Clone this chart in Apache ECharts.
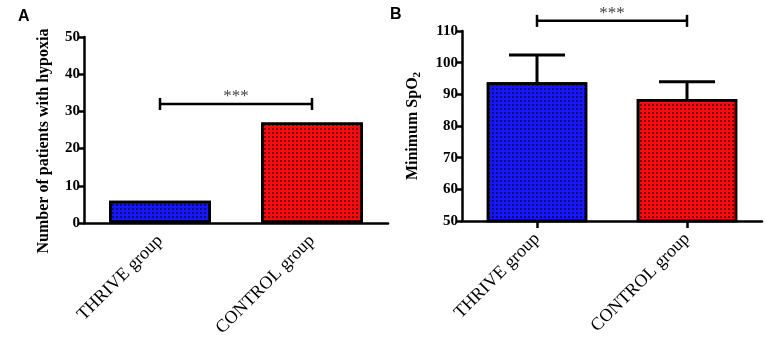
<!DOCTYPE html>
<html>
<head>
<meta charset="utf-8">
<script src="https://cdn.jsdelivr.net/npm/echarts@6/dist/echarts.min.js"></script>
<style>
html,body{margin:0;padding:0;background:#fff;}
#c{width:765px;height:347px;}
</style>
</head>
<body>
<div id="c"></div>
<script>
// ---- data ----
const categories = ['THRIVE group', 'CONTROL group'];
const hypoxiaCounts = [6, 27];          // panel A
const spo2Mean = [93.8, 88.5];          // panel B bar heights
const spo2Upper = [102.4, 94.0];        // panel B error-bar caps (mean + SD)
const sigLevelA = 32;                   // significance bracket height, panel A
const sigLevelB = 113.2;                // significance bracket height, panel B
const sigText = '***';
const yRangeA = [0, 50, 10];            // min, max, interval
const yRangeB = [50, 110, 10];

const serif = 'Liberation Serif';
const blue = '#1717ff';
const red = '#ff0a0a';
const decal = {
  symbol: 'rect', symbolSize: 1,
  dashArrayX: [1.6, 1.7], dashArrayY: [1.6, 1.7],
  color: 'rgba(0,0,0,0.5)', rotation: 0
};

function yAxisBase(r, gi, name, gap, extra) {
  return {
    type: 'value', gridIndex: gi, min: r[0], max: r[1], interval: r[2],
    name: name, nameLocation: 'middle', nameGap: gap, nameRotate: 90,
    nameTextStyle: Object.assign({ fontFamily: serif, fontWeight: 'bold', fontSize: 16, color: '#000' }, extra || {}),
    axisLine: { show: true, lineStyle: { color: '#000', width: 2.5 } },
    axisTick: { show: true, length: 6, lineStyle: { color: '#000', width: 2.5 } },
    axisLabel: { fontFamily: serif, fontWeight: 'bold', fontSize: 15, color: '#000', margin: 4 },
    splitLine: { show: false }
  };
}
function xAxisBase(gi, ticks) {
  return {
    type: 'category', gridIndex: gi, data: categories,
    axisLine: { show: true, lineStyle: { color: '#000', width: 2.5 } },
    axisTick: { show: ticks, alignWithLabel: true, length: 7, lineStyle: { color: '#000', width: 2.5 } },
    axisLabel: { rotate: 45, fontFamily: serif, fontSize: 18, color: '#000', margin: 15, interval: 0 }
  };
}

function bracketRender(params, api) {
  const y = api.value(2);
  const a = api.coord([api.value(0), y]);
  const b = api.coord([api.value(1), y]);
  const st = { stroke: '#000', lineWidth: 2.5 };
  return {
    type: 'group',
    children: [
      { type: 'line', shape: { x1: a[0], y1: a[1], x2: b[0], y2: b[1] }, style: st },
      { type: 'line', shape: { x1: a[0], y1: a[1] - 6, x2: a[0], y2: a[1] + 6 }, style: st },
      { type: 'line', shape: { x1: b[0], y1: b[1] - 6, x2: b[0], y2: b[1] + 6 }, style: st },
      { type: 'text', x: (a[0] + b[0]) / 2, y: a[1] - 7,
        style: { text: sigText, fill: '#444', font: '17px ' + serif, textAlign: 'center', textVerticalAlign: 'middle' } }
    ]
  };
}
function errRender(params, api) {
  const p0 = api.coord([api.value(0), api.value(1)]);
  const p1 = api.coord([api.value(0), api.value(2)]);
  const st = { stroke: '#000', lineWidth: 3 };
  return {
    type: 'group',
    children: [
      { type: 'line', shape: { x1: p0[0], y1: p0[1], x2: p1[0], y2: p1[1] }, style: st },
      { type: 'line', shape: { x1: p1[0] - 28, y1: p1[1], x2: p1[0] + 28, y2: p1[1] }, style: st }
    ]
  };
}

const chart = echarts.init(document.getElementById('c'), null, { renderer: 'canvas' });
chart.setOption({
  animation: false,
  backgroundColor: '#fff',
  aria: { enabled: true, decal: { show: true } },
  title: [
    { text: 'A', left: 13, top: 4, textStyle: { fontFamily: 'Liberation Sans', fontWeight: 'bold', fontSize: 16, color: '#000' } },
    { text: 'B', left: 385, top: 2, textStyle: { fontFamily: 'Liberation Sans', fontWeight: 'bold', fontSize: 16, color: '#000' } }
  ],
  grid: [
    { left: 84, top: 37, width: 304, height: 186 },
    { left: 462, top: 31, width: 300, height: 190 }
  ],
  xAxis: [xAxisBase(0, false), xAxisBase(1, true)],
  yAxis: [
    yAxisBase(yRangeA, 0, 'Number of patients with hypoxia', 32, { padding: [0, 22, 0, 0] }),
    yAxisBase(yRangeB, 1, '{a|Minimum SpO}{b|2}', 39, { rich: {
      a: { fontFamily: serif, fontWeight: 'bold', fontSize: 16, color: '#000', lineHeight: 20 },
      b: { fontFamily: serif, fontWeight: 'bold', fontSize: 11, color: '#000', verticalAlign: 'bottom', lineHeight: 12 }
    } })
  ],
  series: [
    {
      type: 'bar', xAxisIndex: 0, yAxisIndex: 0, barWidth: '67%',
      data: hypoxiaCounts.map((v, i) => ({ value: v, itemStyle: { color: i === 0 ? blue : red, decal: decal } })),
      itemStyle: { borderColor: '#000', borderWidth: 2.5 }
    },
    {
      type: 'bar', xAxisIndex: 1, yAxisIndex: 1, barWidth: '67%',
      data: spo2Mean.map((v, i) => ({ value: v, itemStyle: { color: i === 0 ? blue : red, decal: decal } })),
      itemStyle: { borderColor: '#000', borderWidth: 2.5 }
    },
    {
      type: 'custom', xAxisIndex: 1, yAxisIndex: 1, clip: false, z: 1,
      renderItem: errRender,
      data: spo2Mean.map((m, i) => [i, m, spo2Upper[i]])
    },
    {
      type: 'custom', xAxisIndex: 0, yAxisIndex: 0, clip: false, z: 5,
      renderItem: bracketRender, data: [[0, 1, sigLevelA]]
    },
    {
      type: 'custom', xAxisIndex: 1, yAxisIndex: 1, clip: false, z: 5,
      renderItem: bracketRender, data: [[0, 1, sigLevelB]]
    }
  ]
});
</script>
</body>
</html>
